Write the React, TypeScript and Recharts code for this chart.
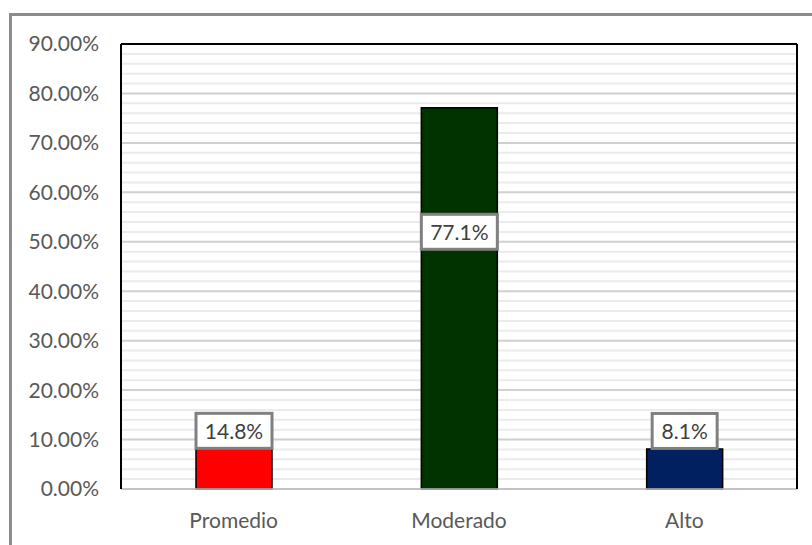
import React from "react";
import {
  BarChart,
  Bar,
  XAxis,
  YAxis,
  CartesianGrid,
  Cell,
  LabelList,
} from "recharts";

const CATEGORIES = ["Promedio", "Moderado", "Alto"];
const PERCENTS = [14.8, 77.1, 8.1];
const BAR_COLORS = ["#ff0000", "#003300", "#002060"];
const Y_MAX = 90;
const Y_TICKS = [0, 10, 20, 30, 40, 50, 60, 70, 80, 90];
// every 2%: majors at multiples of 10, minors in between
const GRID_VALUES = [
  0, 2, 4, 6, 8, 10, 12, 14, 16, 18, 20, 22, 24, 26, 28, 30, 32, 34, 36, 38,
  40, 42, 44, 46, 48, 50, 52, 54, 56, 58, 60, 62, 64, 66, 68, 70, 72, 74, 76,
  78, 80, 82, 84, 86, 88, 90,
];

// how far below the bar top each label box sits (px)
const LABEL_DROP = [34, 143, 1];

const FONT = "Lato, 'Open Sans', sans-serif";
const FONT_SIZE = 21;

const data = CATEGORIES.map((name, i) => ({ name, value: PERCENTS[i] }));

function gridRows({ yAxis, offset }: any) {
  const scale = yAxis?.scale;
  return GRID_VALUES.map((v) => {
    if (typeof scale === "function") return scale(v);
    if (scale && typeof scale.map === "function") return scale.map(v);
    return offset.top + offset.height * (1 - v / Y_MAX);
  });
}

function GridLine(props: any) {
  const { x1, x2, y1, y2, y, height } = props;
  // recover the value of this line from its pixel position
  const v = Math.round(((y + height - y1) / height) * Y_MAX);
  const major = v % 10 === 0;
  return (
    <line
      x1={x1}
      x2={x2}
      y1={y1}
      y2={y2}
      stroke={major ? "#d0d0d0" : "#ebebeb"}
      strokeWidth={2}
    />
  );
}

function BoxLabel(props: any) {
  const { x, y, width, value, index } = props;
  const text = `${Number(value).toFixed(1)}%`;
  const w = text.length * 11 + 21;
  const h = 35;
  const cx = x + width / 2;
  const bottom = y + LABEL_DROP[index] - 1.5;
  return (
    <g>
      <rect
        x={cx - w / 2}
        y={bottom - h}
        width={w}
        height={h}
        fill="#ffffff"
        stroke="#808080"
        strokeWidth={3}
      />
      <text
        x={cx}
        y={bottom - h / 2}
        textAnchor="middle"
        dominantBaseline="central"
        fill="#404040"
        fontSize={FONT_SIZE}
        fontFamily={FONT}
      >
        {text}
      </text>
    </g>
  );
}

export default function App() {
  return (
    <div
      style={{
        position: "fixed",
        left: 9,
        top: 13,
        width: 803,
        height: 532,
        borderLeft: "3px solid #8c8c8c",
        borderTop: "3px solid #8c8c8c",
        background: "#ffffff",
      }}
    >
      <BarChart
        width={800}
        height={529}
        data={data}
        margin={{ top: 27, right: 14, bottom: 26, left: 0 }}
        style={{ fontFamily: FONT }}
      >
        <CartesianGrid
          vertical={false}
          horizontalCoordinatesGenerator={gridRows}
          horizontal={(p: any) => <GridLine key={`g-${p.index}`} {...p} />}
        />
        <XAxis
          dataKey="name"
          height={30}
          tickLine={false}
          axisLine={{ stroke: "#bfbfbf", strokeWidth: 1.5 }}
          tickSize={0}
          tickMargin={24}
          tick={{ fill: "#595959", fontSize: FONT_SIZE }}
        />
        <XAxis
          xAxisId="top"
          dataKey="name"
          orientation="top"
          height={1}
          tick={false}
          tickLine={false}
          axisLine={{ stroke: "#000000", strokeWidth: 2 }}
        />
        <YAxis
          width={109}
          domain={[0, Y_MAX]}
          ticks={Y_TICKS}
          tickFormatter={(v: number) => `${v.toFixed(2)}%`}
          tickLine={false}
          tickSize={0}
          tickMargin={22}
          axisLine={{ stroke: "#000000", strokeWidth: 2 }}
          tick={{ fill: "#595959", fontSize: FONT_SIZE }}
        />
        <YAxis
          yAxisId="right"
          orientation="right"
          width={1}
          tick={false}
          tickLine={false}
          axisLine={{ stroke: "#000000", strokeWidth: 2 }}
        />
        <Bar
          dataKey="value"
          barSize={76}
          stroke="#000000"
          strokeWidth={1.5}
          isAnimationActive={false}
        >
          {data.map((d, i) => (
            <Cell key={d.name} fill={BAR_COLORS[i]} />
          ))}
          <LabelList dataKey="value" content={<BoxLabel />} />
        </Bar>
      </BarChart>
    </div>
  );
}
